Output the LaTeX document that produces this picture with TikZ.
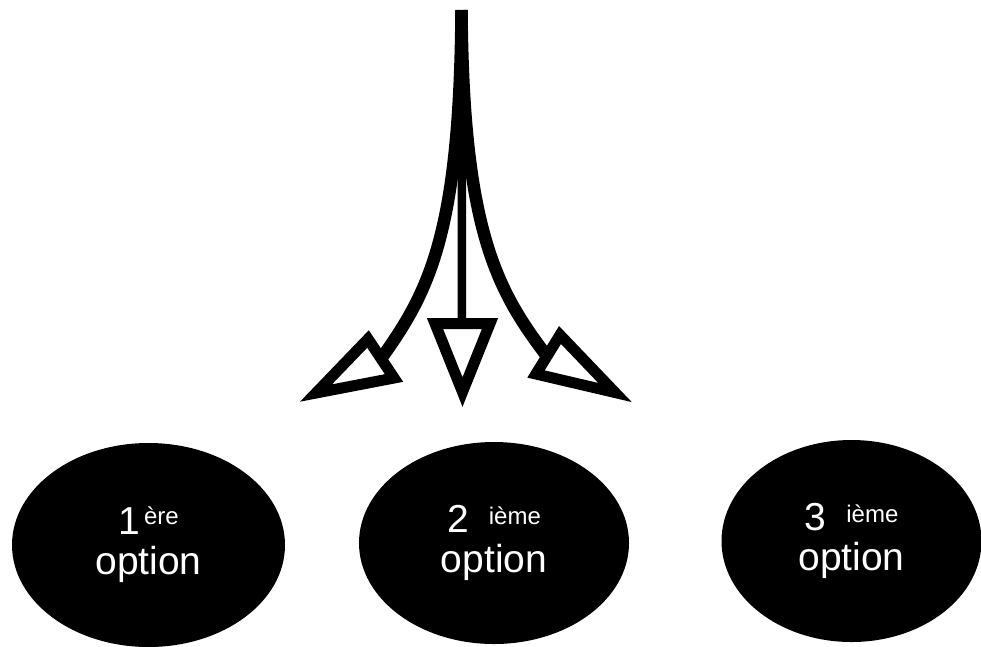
\documentclass[tikz,border=0pt]{standalone}
\usepackage{fontspec}
\setmainfont{Liberation Sans}
\usetikzlibrary{shapes.geometric}
\newcommand\exposant[2][8pt]{\raisebox{#1}{\fontsize{24}{24}\selectfont #2}}

\tikzset{
  option/.style={ellipse, fill=black, text=white, align=center, inner sep=0pt,
    font=\fontsize{39}{40}\selectfont},
  branche/.style={line width=12.5pt},
  pointe/.style={line width=11pt, line join=miter}
}

\begin{document}
\begin{tikzpicture}[x=1pt, y=-1pt]
			%%%%% START %%%%%
			\useasboundingbox (0, 0) rectangle (981, 646);
			
			% les trois options
			\node[option, minimum width=273pt, minimum height=204pt] (opt1) at (148.5, 545) {1\hspace{4pt}\exposant[10pt]{ère}\\option};
			\node[option, minimum width=270pt, minimum height=202pt] (opt2) at (494, 543) {2\hspace{20pt}\exposant{ième}\\option};
			\node[option, minimum width=260pt, minimum height=202pt] (opt3) at (851.5, 541) {3\hspace{20pt}\exposant{ième}\\option};
			
			% tige et branches
			\coordinate (haut) at (461.5, 10);
			\coordinate (finG) at (383, 356);
			\coordinate (finM) at (462, 323.5);
			\coordinate (finD) at (546, 355);
			
			\draw[line width=8.5pt] (haut) -- (finM);
			\draw[branche] (haut) .. controls (460, 230) and (430, 290) .. (finG);
			\draw[branche] (haut) .. controls (463, 230) and (497, 290) .. (finD);
			
			% pointes ouvertes
			\draw[pointe] (316, 393) -- (368, 339) -- (394, 378) -- cycle;
			\draw[pointe] (435, 323.5) -- (490, 323.5) -- (462.5, 392) -- cycle;
			\draw[pointe] (560, 335) -- (615, 392.5) -- (536, 374) -- cycle;
			
			%%%%% END %%%%%
\end{tikzpicture}
\end{document}
